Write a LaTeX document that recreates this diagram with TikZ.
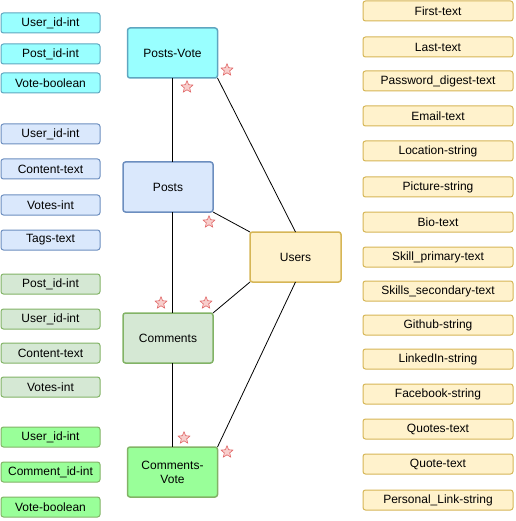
\documentclass[tikz,border=0pt]{standalone}
\usepackage{fontspec}
\setmainfont{Liberation Sans}
\usetikzlibrary{shapes.geometric}
\definecolor{cyanF}{HTML}{99FFFF}
\definecolor{cyanD}{HTML}{5FA6C0}
\definecolor{blueF}{HTML}{DAE8FC}
\definecolor{blueD}{HTML}{6C8EBF}
\definecolor{lgreenF}{HTML}{D5E8D4}
\definecolor{greenD}{HTML}{82B366}
\definecolor{greenF}{HTML}{99FF99}
\definecolor{yelF}{HTML}{FFF2CC}
\definecolor{yelD}{HTML}{D6B656}
\definecolor{starF}{HTML}{F8CECC}
\definecolor{starD}{HTML}{E06666}
\tikzset{
  box/.style={rectangle, rounded corners=2.5pt, line width=1pt, inner sep=0pt, outer sep=0pt,
    font=\fontsize{12}{14}\selectfont, align=center},
  attr/.style={box, minimum width=99pt, minimum height=20pt},
  rattr/.style={box, minimum width=150pt, minimum height=20pt, fill=yelF, draw=yelD},
  ent/.style={box, line width=1.5pt, minimum width=90pt, minimum height=50pt},
  cyanbox/.style={fill=cyanF, draw=cyanD},
  bluebox/.style={fill=blueF, draw=blueD},
  lgbox/.style={fill=lgreenF, draw=greenD},
  gbox/.style={fill=greenF, draw=greenD},
  mark star/.style={star, star points=5, star point ratio=2.2, minimum size=12.5pt, inner sep=0pt,
    fill=starF, draw=starD, line width=0.6pt},
  conn/.style={draw=black, line width=0.8pt}
}
\begin{document}
\begin{tikzpicture}[x=1pt,y=-1pt]
\useasboundingbox (0,0) rectangle (515,521);
% left attribute boxes
\node[attr,cyanbox] (a1) at (50.5,23) {User\_id-int};
\node[attr,cyanbox] (a2) at (50.5,54) {Post\_id-int};
\node[attr,cyanbox] (a3) at (50.5,83) {Vote-boolean};
\node[attr,bluebox] (b1) at (50.5,134) {User\_id-int};
\node[attr,bluebox] (b2) at (50.5,169) {Content-text};
\node[attr,bluebox] (b3) at (50.5,205) {Votes-int};
\node[attr,bluebox] (b4) at (50.5,240) {Tags-text};
\node[attr,lgbox] (c1) at (50.5,284) {Post\_id-int};
\node[attr,lgbox] (c2) at (50.5,319) {User\_id-int};
\node[attr,lgbox] (c3) at (50.5,353) {Content-text};
\node[attr,lgbox] (c4) at (50.5,387) {Votes-int};
\node[attr,gbox] (d1) at (50.5,437) {User\_id-int};
\node[attr,gbox] (d2) at (50.5,472) {Comment\_id-int};
\node[attr,gbox] (d3) at (50.5,507) {Vote-boolean};
% right attribute boxes
\node[rattr] (r1) at (438,11) {First-text};
\node[rattr] (r2) at (438,47) {Last-text};
\node[rattr] (r3) at (438,81) {Password\_digest-text};
\node[rattr] (r4) at (438,116) {Email-text};
\node[rattr] (r5) at (438,151) {Location-string};
\node[rattr] (r6) at (438,187) {Picture-string};
\node[rattr] (r7) at (438,222) {Bio-text};
\node[rattr] (r8) at (438,257) {Skill\_primary-text};
\node[rattr] (r9) at (438,291) {Skills\_secondary-text};
\node[rattr] (r10) at (438,325) {Github-string};
\node[rattr] (r11) at (438,359) {LinkedIn-string};
\node[rattr] (r12) at (438,394) {Facebook-string};
\node[rattr] (r13) at (438,429) {Quotes-text};
\node[rattr] (r14) at (438,464) {Quote-text};
\node[rattr] (r15) at (438,500) {Personal\_Link-string};
% entities
\node[ent,cyanbox] (pv) at (172.5,53) {Posts-Vote};
\node[ent,bluebox] (posts) at (168,187) {Posts};
\node[ent,lgbox] (comments) at (168,338) {Comments};
\node[ent,gbox] (cv) at (172.5,472) {Comments-\\Vote};
\node[ent,fill=yelF,draw=yelD, minimum width=91pt] (users) at (295.5,257) {Users};
% connectors
\draw[conn] (pv.south) -- (pv.south |- posts.north);
\draw[conn] (pv.south |- posts.south) -- (pv.south |- comments.north);
\draw[conn] (pv.south |- comments.south) -- (cv.north);
\draw[conn] (pv.south east) -- (users.north);
\draw[conn] (posts.south east) -- (users.north west);
\draw[conn] (comments.north east) -- (users.south west);
\draw[conn] (cv.north east) -- (users.south);
% stars
\node[mark star] (s1) at (227,70) {};
\node[mark star] (s2) at (187,87) {};
\node[mark star] (s3) at (209,222) {};
\node[mark star] (s4) at (161,303) {};
\node[mark star] (s5) at (206,303) {};
\node[mark star] (s6) at (184,438) {};
\node[mark star] (s7) at (227,452) {};
\end{tikzpicture}
\end{document}
